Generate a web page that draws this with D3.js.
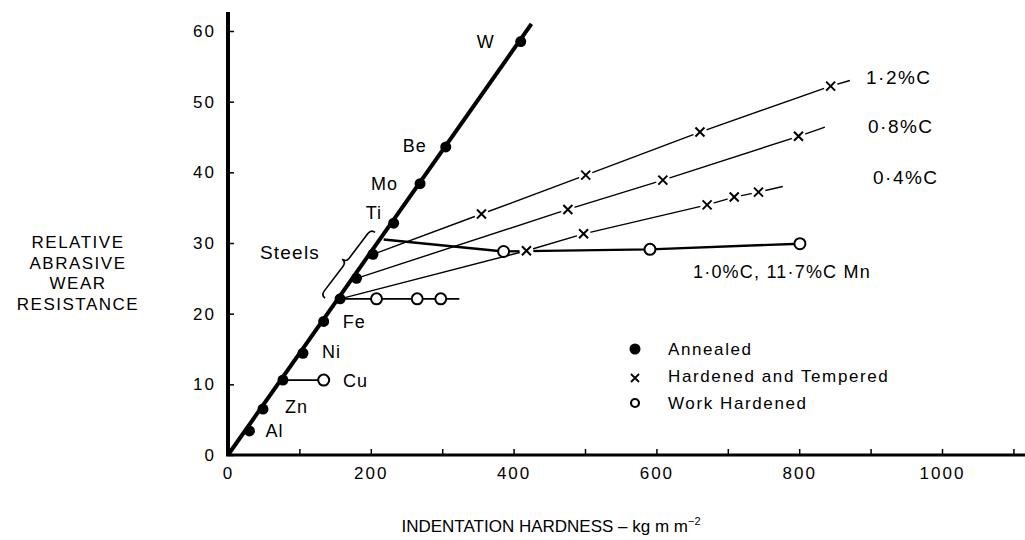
<!DOCTYPE html>
<html>
<head>
<meta charset="utf-8">
<script src="https://cdn.jsdelivr.net/npm/d3@7"></script>
<style>
body { margin: 0; background: #fff; }
text { font-family: "Liberation Sans", Arial, sans-serif; fill: #000; }
</style>
</head>
<body>
<div id="chart"></div>
<script>
// pure metals, annealed (filled dots on the thick line)
var pureNames = ["Al", "Zn", "Cu", "Ni", "Fe", "Ti", "Mo", "Be", "W"];
var pureHardness = [30, 49, 77, 105, 134, 232, 269, 305, 410];
var pureWear = [3.4, 6.5, 10.6, 14.4, 18.9, 32.8, 38.4, 43.6, 58.5];

// annealed steels (dots inside the "Steels" brace)
var steelNames = ["0·4%C", "0·8%C", "1·2%C"];
var steelHardness = [157, 180, 203];
var steelWear = [22.1, 25.0, 28.4];

// hardened and tempered steels: first point = annealed start, last = end of line
var ht04Hardness = [157, 418, 498, 671, 709, 743, 777];
var ht04Wear = [22.1, 28.9, 31.3, 35.4, 36.5, 37.2, 38.0];
var ht08Hardness = [180, 476, 609, 799, 836];
var ht08Wear = [25.0, 34.75, 38.9, 45.1, 46.4];
var ht12Hardness = [203, 355, 501, 661, 844, 871];
var ht12Wear = [28.4, 34.1, 39.6, 45.7, 52.2, 53.0];

// work hardened
var whFeHardness = [157, 208, 265, 298, 324];
var whFeWear = [22.1, 22.1, 22.1, 22.1, 22.1];
var whCuHardness = [77, 134];
var whCuWear = [10.6, 10.6];
var whMnHardness = [218, 386, 591, 801];
var whMnWear = [30.5, 28.8, 29.1, 29.9];

// thick line through the pure metals
var mainLineHardness = [0, 425];
var mainLineWear = [0, 61];

var xTicks = [0, 100, 200, 300, 400, 500, 600, 700, 800, 900, 1000, 1100];
var xLabels = [0, 200, 400, 600, 800, 1000];
var yTicks = [0, 10, 20, 30, 40, 50, 60];

var width = 1025, height = 540;

var svg = d3.select("#chart").append("svg")
	.attr("width", width)
	.attr("height", height);

var x = d3.scaleLinear().domain([0, 1000]).range([228, 942]);
var y = d3.scaleLinear().domain([0, 60]).range([455, 31]);

function pts(hs, ws) {
	return hs.map(function(h, i) { return [h, ws[i]]; });
}
var line = d3.line()
	.x(function(d) { return x(d[0]); })
	.y(function(d) { return y(d[1]); });

// axes
var xAxis = svg.append("g")
	.attr("transform", "translate(0," + y(0) + ")")
	.call(d3.axisBottom(x).tickValues(xTicks).tickSize(-6).tickFormat(function(d) {
		return xLabels.indexOf(d) >= 0 ? d : "";
	}));
xAxis.select(".domain").remove();
xAxis.selectAll(".tick line").attr("stroke", "#000").attr("stroke-width", 1.5);
xAxis.selectAll(".tick text").attr("font-size", 17).attr("y", 12)
	.attr("letter-spacing", 2)
	.attr("font-family", "Liberation Sans, Arial, sans-serif");
svg.append("line")
	.attr("x1", x(0) - 2).attr("x2", width)
	.attr("y1", y(0)).attr("y2", y(0))
	.attr("stroke", "#000").attr("stroke-width", 3);

var yAxis = svg.append("g")
	.attr("transform", "translate(" + x(0) + ",0)")
	.call(d3.axisLeft(y).tickValues(yTicks).tickSize(-6).tickPadding(12));
yAxis.select(".domain").remove();
yAxis.selectAll(".tick line").attr("stroke", "#000").attr("stroke-width", 1.5);
yAxis.selectAll(".tick text").attr("font-size", 17)
	.attr("letter-spacing", 2)
	.attr("font-family", "Liberation Sans, Arial, sans-serif");
svg.append("line")
	.attr("x1", x(0)).attr("x2", x(0))
	.attr("y1", y(0) + 1).attr("y2", y(62.7))
	.attr("stroke", "#000").attr("stroke-width", 4);

// axis titles
svg.append("text")
	.attr("x", 551).attr("y", 532)
	.attr("text-anchor", "middle")
	.attr("font-size", 17)
	.text("INDENTATION HARDNESS – kg m m")
	.append("tspan").attr("dy", -7).attr("font-size", 11).text("−2");

var yTitle = ["RELATIVE", "ABRASIVE", "WEAR", "RESISTANCE"];
svg.append("text")
	.attr("text-anchor", "middle")
	.attr("font-size", 17)
	.attr("letter-spacing", 1.5)
	.selectAll("tspan").data(yTitle).enter().append("tspan")
	.attr("x", 78)
	.attr("y", function(d, i) { return 248 + i * 20.5; })
	.text(function(d) { return d; });

// hardened and tempered lines (thin)
var htSeries = [pts(ht04Hardness, ht04Wear), pts(ht08Hardness, ht08Wear), pts(ht12Hardness, ht12Wear)];
svg.selectAll(".ht").data(htSeries).enter().append("path")
	.attr("class", "ht")
	.attr("d", line)
	.attr("fill", "none").attr("stroke", "#000").attr("stroke-width", 1.4);

// work hardened lines
svg.append("path").attr("d", line(pts(whFeHardness, whFeWear)))
	.attr("fill", "none").attr("stroke", "#000").attr("stroke-width", 1.6);
svg.append("path").attr("d", line(pts(whCuHardness, whCuWear)))
	.attr("fill", "none").attr("stroke", "#000").attr("stroke-width", 1.6);
svg.append("path").attr("d", line(pts(whMnHardness, whMnWear)))
	.attr("fill", "none").attr("stroke", "#000").attr("stroke-width", 2.4);

// thick line for the pure metals
svg.append("path").attr("d", line(pts(mainLineHardness, mainLineWear)))
	.attr("fill", "none").attr("stroke", "#000").attr("stroke-width", 4);

// x markers (with a white gap round each)
var crossPts = [];
htSeries.forEach(function(s) {
	s.slice(1, s.length - 1).forEach(function(p) { crossPts.push(p); });
});
var cross = svg.selectAll(".cross").data(crossPts).enter().append("g")
	.attr("class", "cross")
	.attr("transform", function(d) { return "translate(" + x(d[0]) + "," + y(d[1]) + ")"; });
cross.append("circle").attr("r", 7).attr("fill", "#fff");
cross.append("path").attr("d", "M-4.5,-4.5L4.5,4.5M-4.5,4.5L4.5,-4.5")
	.attr("stroke", "#000").attr("stroke-width", 2);

// open circles
var openPts = pts(whFeHardness, whFeWear).slice(1, 4)
	.concat(pts(whCuHardness, whCuWear).slice(1))
	.concat(pts(whMnHardness, whMnWear).slice(1));
svg.selectAll(".open").data(openPts).enter().append("circle")
	.attr("class", "open")
	.attr("cx", function(d) { return x(d[0]); })
	.attr("cy", function(d) { return y(d[1]); })
	.attr("r", 5.5)
	.attr("fill", "#fff").attr("stroke", "#000").attr("stroke-width", 2);

// filled dots
var filledPts = pts(pureHardness, pureWear).concat(pts(steelHardness, steelWear));
svg.selectAll(".dot").data(filledPts).enter().append("circle")
	.attr("class", "dot")
	.attr("cx", function(d) { return x(d[0]); })
	.attr("cy", function(d) { return y(d[1]); })
	.attr("r", 5.5)
	.attr("fill", "#000");

// metal labels (Cu sits beside its work-hardened circle)
var labelOffsets = [[16, 6], [22, 4], [60, 7], [19, 5], [19, 7], [-28, -4], [-49, 6], [-43, 5], [-44, 6]];
svg.selectAll(".metal").data(pureNames).enter().append("text")
	.attr("class", "metal")
	.attr("x", function(d, i) { return x(pureHardness[i]) + labelOffsets[i][0]; })
	.attr("y", function(d, i) { return y(pureWear[i]) + labelOffsets[i][1]; })
	.attr("font-size", 18)
	.attr("letter-spacing", 1)
	.text(function(d) { return d; });

// steel series labels at the right end
var steelLabelX = [873, 868, 866];
var steelLabelY = [184, 133, 84];
svg.selectAll(".steel").data(steelNames).enter().append("text")
	.attr("class", "steel")
	.attr("x", function(d, i) { return steelLabelX[i]; })
	.attr("y", function(d, i) { return steelLabelY[i]; })
	.attr("font-size", 19)
	.attr("letter-spacing", 1.5)
	.text(function(d) { return d; });

svg.append("text")
	.attr("x", 693).attr("y", 278)
	.attr("font-size", 18)
	.attr("letter-spacing", 1.2)
	.text("1·0%C, 11·7%C Mn");

// Steels brace
var b0 = [x(136), y(22.2)], b1 = [x(206), y(31.5)];
var bLen = Math.hypot(b1[0] - b0[0], b1[1] - b0[1]) / 2;
var bAng = Math.atan2(b1[1] - b0[1], b1[0] - b0[0]) * 180 / Math.PI;
var h = 5;
svg.append("path")
	.attr("transform", "translate(" + (b0[0] + b1[0]) / 2 + "," + (b0[1] + b1[1]) / 2 + ") rotate(" + bAng + ")")
	.attr("d", "M" + (-bLen) + ",0 Q" + (-bLen) + "," + (-h) + " " + (-bLen + h) + "," + (-h) +
		" L-5," + (-h) + " Q0," + (-h) + " 0," + (-2 * h) +
		" Q0," + (-h) + " 5," + (-h) +
		" L" + (bLen - h) + "," + (-h) + " Q" + bLen + "," + (-h) + " " + bLen + ",0")
	.attr("fill", "none").attr("stroke", "#000").attr("stroke-width", 1.6);
svg.append("text")
	.attr("x", 260).attr("y", 259)
	.attr("font-size", 19)
	.attr("letter-spacing", 1.2)
	.text("Steels");

// legend
var legendNames = ["Annealed", "Hardened and Tempered", "Work Hardened"];
var legend = svg.selectAll(".legend").data(legendNames).enter().append("g")
	.attr("class", "legend")
	.attr("transform", function(d, i) { return "translate(635," + (349 + i * 27) + ")"; });
legend.append("text")
	.attr("x", 33).attr("y", 6)
	.attr("font-size", 17)
	.attr("letter-spacing", 1.6)
	.text(function(d) { return d; });
legend.filter(function(d, i) { return i === 0; }).append("circle").attr("r", 5.5).attr("fill", "#000");
legend.filter(function(d, i) { return i === 1; }).append("path")
	.attr("d", "M-4,-2L4,6M-4,6L4,-2").attr("stroke", "#000").attr("stroke-width", 1.8);
legend.filter(function(d, i) { return i === 2; }).append("circle").attr("r", 4)
	.attr("fill", "#fff").attr("stroke", "#000").attr("stroke-width", 2.2);
</script>
</body>
</html>
